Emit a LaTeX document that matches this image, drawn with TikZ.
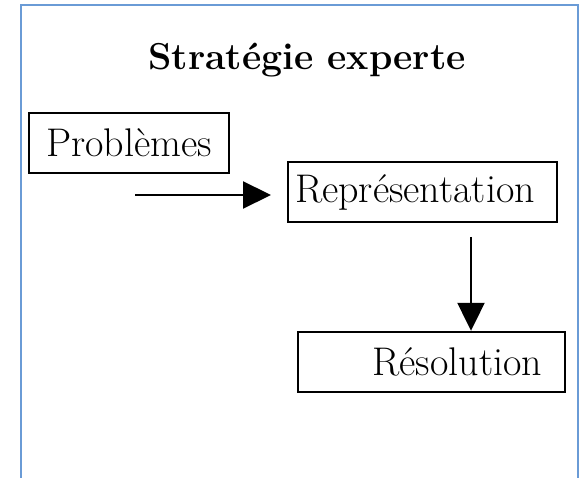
\documentclass[tikz,border=0pt]{standalone}
\usetikzlibrary{arrows.meta}
\definecolor{frameblue}{HTML}{6A9BD6}
\tikzset{
  box/.style={draw=black, line width=2.4pt, inner sep=0pt, font=\fontsize{40}{46}\selectfont},
  flow/.style={line width=2.2pt, -{Triangle[length=28pt, width=27pt]}},
}
\begin{document}
\begin{tikzpicture}[x=1pt, y=-1pt]
  \useasboundingbox (0,0) rectangle (584,478);
  % open frame around the diagram
  \draw[frameblue, line width=2.6pt] (21,480) -- (21,5) -- (578,5) -- (578,480);
  % heading
  \node[font=\bfseries\fontsize{37.5}{44}\selectfont] (title) at (307,60) {Stratégie experte};
  % steps
  \node[box, minimum width=200pt, minimum height=60pt] (prob) at (129,143) {Problèmes};
  \node[box, minimum width=269pt, minimum height=60pt, text width=255pt, align=left] (repr) at (422.5,192) {Représentation};
  \node[box, minimum width=267pt, minimum height=60pt, text width=221pt, align=right] (reso) at (431.5,362) {Résolution};
  % connector ends
  \coordinate (start) at (135,195);
  \coordinate (stop) at (271,195);
  \coordinate (down) at (471,237);
  % connectors
  \draw[flow] (start) -- (stop);
  \draw[flow] (down) -- (down |- reso.north);
\end{tikzpicture}
\end{document}
